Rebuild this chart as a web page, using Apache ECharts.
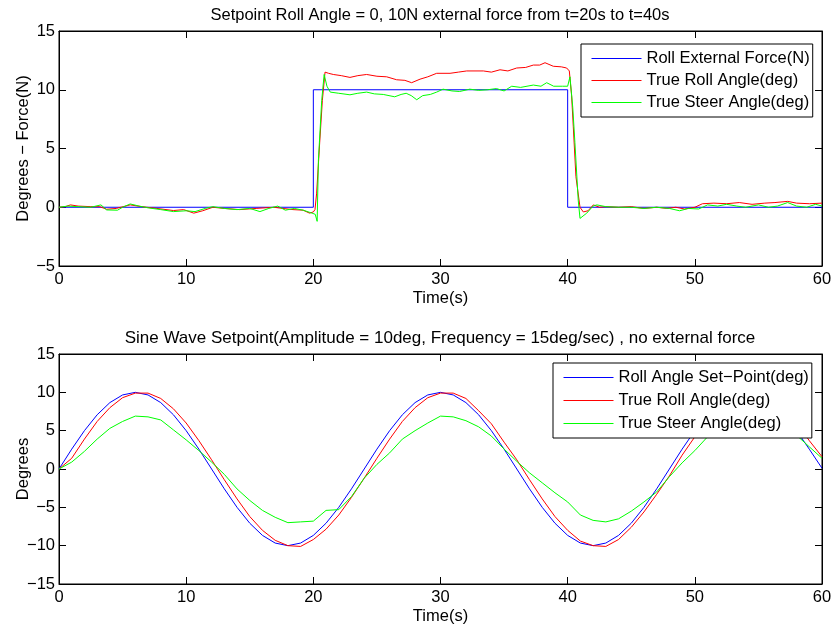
<!DOCTYPE html>
<html>
<head>
<meta charset="utf-8">
<script src="https://cdn.jsdelivr.net/npm/echarts@6/dist/echarts.min.js"></script>
<style>html,body{margin:0;padding:0;background:#fff}#c{width:833px;height:631px}</style>
</head>
<body>
<div id="c"></div>
<script>
// ---------- DATA ----------
const topTitle = 'Setpoint Roll Angle = 0, 10N external force from t=20s to t=40s';
const bottomTitle = 'Sine Wave Setpoint(Amplitude = 10deg, Frequency = 15deg/sec) , no external force';
const xTicks = [0, 10, 20, 30, 40, 50, 60];
const yTicksTop = [-5, 0, 5, 10, 15];
const yTicksBottom = [-15, -10, -5, 0, 5, 10, 15];
const topNames = ['Roll External Force(N)', 'True Roll Angle(deg)', 'True Steer Angle(deg)'];
const bottomNames = ['Roll Angle Set\u2212Point(deg)', 'True Roll Angle(deg)', 'True Steer Angle(deg)'];

// top panel: [time, value]
const topForce = [[0,0],[20,0],[20,10],[40,10],[40,0],[60,0]];
const topRoll = [[0,0],[0.5,0.05],[0.9,0.2],[1.5,0.1],[2.5,0.05],[3.2,0.05],[3.75,-0.17],[4.5,-0.1],[5.6,0.2],[6.5,0.05],[7.7,-0.1],[9,-0.28],[9.8,-0.2],[10.6,-0.5],[11.3,-0.3],[12.1,0],[13,-0.1],[14.2,-0.2],[15.5,-0.1],[16.9,0],[17.6,-0.1],[18.4,-0.2],[19.2,-0.25],[19.7,-0.5],[20.0,-0.4],[20.13,-0.2],[20.26,1.2],[20.5,5.5],[20.71,9.1],[20.92,11.5],[21.2,11.4],[21.57,11.3],[22.2,11.2],[22.88,11.05],[23.5,11.2],[24.19,11.3],[25,11.15],[25.77,11.1],[26.55,10.85],[27.2,10.8],[27.73,10.6],[28.39,10.9],[29.0,11.1],[29.7,11.4],[30.75,11.4],[31.4,11.5],[32.06,11.6],[33.37,11.6],[34.0,11.5],[34.68,11.7],[35.3,11.6],[35.99,11.85],[36.7,11.9],[37.3,12.1],[37.8,12.1],[38.22,12.3],[38.87,12.0],[39.5,11.95],[39.92,11.85],[40.13,11.6],[40.31,9.5],[40.44,6.9],[40.65,2.6],[40.97,0.0],[41.23,-0.4],[41.6,-0.3],[42.02,0.2],[42.5,0.0],[43,0.05],[44,0.0],[45,0.05],[46,-0.1],[47,0.0],[47.8,-0.1],[48.5,0.0],[49.2,-0.15],[50,0.0],[50.6,0.3],[51.5,0.35],[52.5,0.3],[53.5,0.4],[54.5,0.25],[55.5,0.35],[56.3,0.4],[57.3,0.5],[58,0.35],[59,0.3],[60,0.35]];
const topSteer = [[0,0],[0.7,0.1],[1.5,0.05],[2.5,0.0],[3.3,0.2],[3.75,-0.23],[4.6,-0.25],[5.0,0.0],[5.6,0.28],[6.3,0.1],[7,-0.05],[8,-0.2],[9,-0.37],[10,-0.3],[10.7,-0.37],[11.5,-0.1],[12.1,0.05],[13,-0.1],[14,-0.2],[15,-0.1],[15.8,-0.37],[16.5,-0.1],[17.2,0.1],[17.8,-0.25],[18.5,-0.1],[19.2,-0.25],[19.9,-0.5],[20.15,-0.6],[20.3,-1.2],[20.4,4.0],[20.66,9.1],[20.85,11.3],[21.07,10.3],[21.33,9.8],[22.0,9.7],[22.88,9.57],[23.5,9.7],[24.19,9.8],[24.8,9.65],[25.5,9.6],[26.4,9.4],[26.9,9.6],[27.3,9.7],[27.7,9.5],[28.13,9.15],[28.6,9.5],[29.2,9.6],[29.7,9.8],[30.2,10.05],[30.9,9.9],[31.5,9.85],[32.3,10.05],[33.0,9.95],[33.7,10.0],[34.4,10.1],[35.0,9.9],[35.6,10.3],[36.3,10.2],[37.3,10.4],[37.9,10.3],[38.35,10.6],[38.9,10.3],[39.6,10.3],[40.0,10.3],[40.18,11.1],[40.4,8.5],[40.57,5.5],[40.83,0.6],[40.97,-0.95],[41.5,-0.5],[42.0,0.1],[42.3,0.2],[43,0.05],[44,0.0],[45,0.0],[46,-0.1],[47,0.0],[48,-0.1],[48.8,-0.3],[49.5,-0.1],[50.3,-0.15],[51,0.2],[51.8,0.1],[52.5,0.25],[53.3,0.1],[54,0.0],[55,0.2],[55.8,0.0],[56.5,0.1],[57.3,0.4],[58,0.1],[58.8,0.0],[59.5,0.25],[60,0.1]];

// bottom panel: one value per second, t = 0..60
const timeBottom = [0,1,2,3,4,5,6,7,8,9,10,11,12,13,14,15,16,17,18,19,20,21,22,23,24,25,26,27,28,29,30,31,32,33,34,35,36,37,38,39,40,41,42,43,44,45,46,47,48,49,50,51,52,53,54,55,56,57,58,59,60];
const setPoint = [0,2.59,5,7.07,8.66,9.66,10,9.66,8.66,7.07,5,2.59,0,-2.59,-5,-7.07,-8.66,-9.66,-10,-9.66,-8.66,-7.07,-5,-2.59,0,2.59,5,7.07,8.66,9.66,10,9.66,8.66,7.07,5,2.59,0,-2.59,-5,-7.07,-8.66,-9.66,-10,-9.66,-8.66,-7.07,-5,-2.59,0,2.59,5,7.07,8.66,9.66,10,9.66,8.66,7.07,5,2.59,0.1];
const rollBottom = [0,1.4,3.9,6.2,8.0,9.3,9.9,9.9,9.2,7.85,6.0,3.7,1.2,-1.4,-3.9,-6.2,-8.0,-9.3,-10.0,-10.1,-9.2,-7.85,-6.0,-3.7,-1.2,1.4,3.9,6.2,8.0,9.3,9.9,9.9,9.2,7.6,5.9,3.5,1.2,-1.4,-3.9,-6.2,-8.0,-9.4,-10.0,-10.1,-9.2,-7.6,-5.6,-3.3,-0.9,1.8,4.2,6.4,8.0,9.3,9.9,9.9,9.2,7.85,6.0,3.7,1.6];
const steerBottom = [0,0.9,2.3,3.9,5.3,6.2,6.9,6.8,6.4,5.1,3.8,2.4,0.9,-0.7,-2.6,-4.1,-5.4,-6.3,-7.0,-6.9,-6.8,-5.4,-5.3,-3.6,-1.2,0.6,2.1,3.9,5.0,6.0,6.9,6.8,6.3,5.5,4.3,2.6,1.0,-0.5,-1.8,-3.1,-4.3,-6.0,-6.7,-6.9,-6.5,-5.5,-4.3,-3.0,-1.0,0.8,2.4,4.2,5.4,6.3,6.9,6.8,6.5,5.7,4.4,2.9,1.4];

// ---------- CHART ----------
const FONT = 'Liberation Sans';
const FS = 16.5;
const BLUE = '#0000ff', RED = '#ff0000', GREEN = '#00ff00';
const pair = (xs, ys) => xs.map((x, i) => [x, ys[i]]);
const minusFmt = v => String(v).replace('-', '\u2212');

function xAx(gi, pos, showLabels, name) {
  return {
    type: 'value', gridIndex: gi, position: pos, min: xTicks[0], max: xTicks[xTicks.length - 1], interval: 10,
    name: name || '', nameLocation: 'middle', nameGap: 24, nameMoveOverlap: false,
    nameTextStyle: {color: '#000', fontSize: FS, fontFamily: FONT},
    axisLine: {show: true, onZero: false, lineStyle: {color: '#000', width: 1}},
    axisTick: {show: true, inside: true, length: 7, lineStyle: {color: '#000'}},
    axisLabel: {show: showLabels, color: '#000', fontSize: FS, fontFamily: FONT, margin: 5, formatter: minusFmt},
    splitLine: {show: false}
  };
}
function yAx(gi, pos, showLabels, ticks, name) {
  return {
    type: 'value', gridIndex: gi, position: pos, min: ticks[0], max: ticks[ticks.length - 1], interval: 5,
    name: name || '', nameLocation: 'middle', nameGap: 27, nameMoveOverlap: false,
    nameTextStyle: {color: '#000', fontSize: FS, fontFamily: FONT},
    axisLine: {show: true, onZero: false, lineStyle: {color: '#000', width: 1}},
    axisTick: {show: true, inside: true, length: 7, lineStyle: {color: '#000'}},
    axisLabel: {show: showLabels, color: '#000', fontSize: FS, fontFamily: FONT, margin: 4, formatter: minusFmt},
    splitLine: {show: false}
  };
}
function line(id, data, color, xi, yi) {
  return {name: id, type: 'line', data: data, xAxisIndex: xi, yAxisIndex: yi,
    showSymbol: false, symbol: 'none', animation: false, color: color,
    lineStyle: {color: color, width: 1}, itemStyle: {color: color}};
}
function legend(ids, labels, left, top, gap, pad) {
  return {
    orient: 'vertical', left: left, top: top, padding: pad,
    itemWidth: 50, itemHeight: 15, itemGap: gap, itemTextGap: 7,
    itemStyle: {opacity: 0}, lineStyle: {width: 1},
    backgroundColor: '#fff', borderColor: '#000', borderWidth: 1, borderRadius: 0,
    textStyle: {color: '#000', fontSize: FS, fontFamily: FONT}, selectedMode: false,
    data: ids,
    formatter: n => labels[ids.indexOf(n)]
  };
}
const topIds = ['t0', 't1', 't2'];
const botIds = ['b0', 'b1', 'b2'];
const gridCommon = {show: true, borderColor: '#000', borderWidth: 1, backgroundColor: '#fff', containLabel: false, outerBoundsMode: 'none'};

const chart = echarts.init(document.getElementById('c'), null, {renderer: 'canvas'});
chart.setOption({
  backgroundColor: '#fff',
  animation: false,
  title: [
    {text: topTitle, left: 440, top: 7, padding: 0, textAlign: 'center', textStyle: {color: '#000', fontSize: FS, fontWeight: 'normal', fontFamily: FONT}},
    {text: bottomTitle, left: 440, top: 330, padding: 0, textAlign: 'center', textStyle: {color: '#000', fontSize: 17, fontWeight: 'normal', fontFamily: FONT}}
  ],
  grid: [
    Object.assign({left: 59, right: 11, top: 31, height: 235}, gridCommon),
    Object.assign({left: 59, right: 11, top: 354, height: 230}, gridCommon)
  ],
  xAxis: [xAx(0, 'bottom', true, 'Time(s)'), xAx(0, 'top', false), xAx(1, 'bottom', true, 'Time(s)'), xAx(1, 'top', false)],
  yAxis: [yAx(0, 'left', true, yTicksTop, 'Degrees \u2212 Force(N)'), yAx(0, 'right', false, yTicksTop),
          yAx(1, 'left', true, yTicksBottom, 'Degrees'), yAx(1, 'right', false, yTicksBottom)],
  legend: [
    legend(topIds, topNames, 581, 44, 5, [6, 3, 6, 10]),
    legend(botIds, bottomNames, 553, 363, 6, [6, 3, 6, 10])
  ],
  series: [
    line('t0', topForce, BLUE, 0, 0),
    line('t1', topRoll, RED, 0, 0),
    line('t2', topSteer, GREEN, 0, 0),
    line('b0', pair(timeBottom, setPoint), BLUE, 2, 2),
    line('b1', pair(timeBottom, rollBottom), RED, 2, 2),
    line('b2', pair(timeBottom, steerBottom), GREEN, 2, 2)
  ]
});
</script>
</body>
</html>
